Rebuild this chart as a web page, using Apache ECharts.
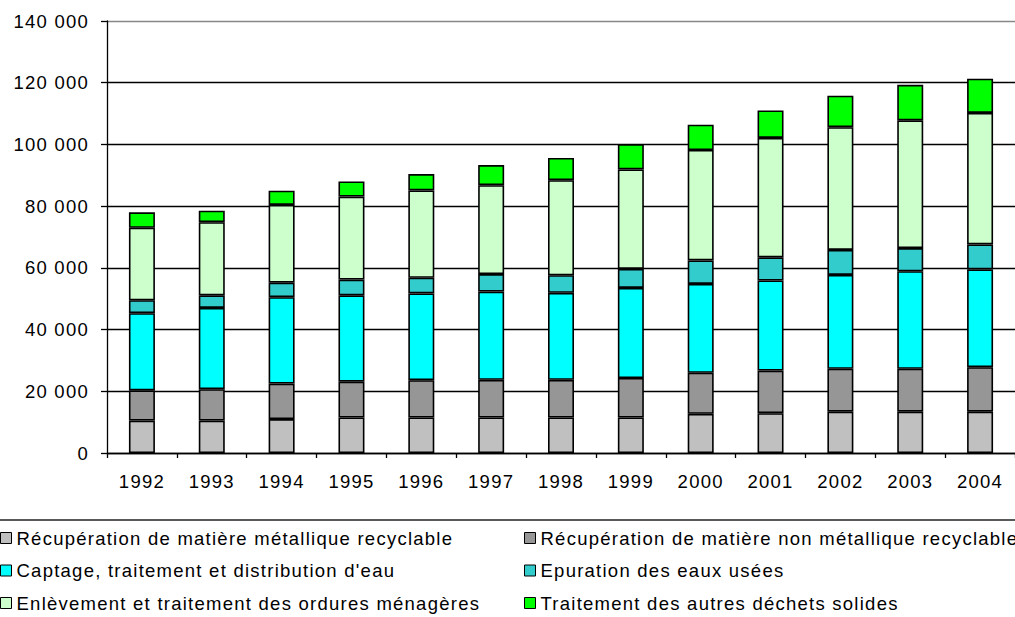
<!DOCTYPE html>
<html>
<head>
<meta charset="utf-8">
<script src="https://cdn.jsdelivr.net/npm/echarts@6/dist/echarts.min.js"></script>
<style>
  html, body { margin: 0; padding: 0; background: #fff; }
  #chart { width: 1015px; height: 617px; }
  /* slightly wider tracking for all chart text */
  #chart svg text { letter-spacing: 1.25px; }
</style>
</head>
<body>
<div id="chart"></div>
<script>
// Years on the category axis
const years = ['1992','1993','1994','1995','1996','1997','1998','1999','2000','2001','2002','2003','2004'];

// Y axis tick values
const yTicks = [0, 20000, 40000, 60000, 80000, 100000, 120000, 140000];

// Series names (legend order)
const names = [
  'Récupération de matière métallique recyclable',
  'Récupération de matière non métallique recyclable',
  "Captage, traitement et distribution d'eau",
  'Epuration des eaux usées',
  'Enlèvement et traitement des ordures ménagères',
  'Traitement des autres déchets solides'
];

// Values per year for each activity
const metallique    = [10500, 10500, 11000, 11500, 11500, 11500, 11500, 11500, 12700, 12900, 13400, 13400, 13400];
const nonMetallique = [ 9800, 10200, 11500, 11600, 12100, 12200, 12200, 12800, 13300, 13800, 13900, 13900, 14400];
const eau           = [25000, 26300, 28000, 28000, 28100, 28600, 28200, 29200, 28800, 29200, 30400, 31600, 31700];
const epuration     = [ 4200,  4100,  4700,  5100,  5100,  5700,  5700,  6200,  7600,  7500,  8100,  7500,  8100];
const ordures       = [23500, 23700, 25200, 26900, 28300, 28800, 30800, 32200, 35800, 38700, 39800, 41400, 42600];
const autres        = [ 5000,  3700,  4600,  4900,  5300,  6500,  7200,  8200,  8200,  8900, 10200, 11500, 11100];

const seriesValues = [metallique, nonMetallique, eau, epuration, ordures, autres];
const colors = ['#C0C0C0', '#969696', '#00FFFF', '#33CCCC', '#CCFFCC', '#00FF00'];

const FONT = "'Liberation Sans', Arial, sans-serif";
const fmt = v => String(v).replace(/\B(?=(\d{3})+(?!\d))/g, ' ');

const chart = echarts.init(document.getElementById('chart'), null, { renderer: 'svg' });

const legendText = { color: '#000', fontFamily: FONT, fontSize: 18.5, lineHeight: 20 };

chart.setOption({
  animation: false,
  backgroundColor: '#fff',
  textStyle: { fontFamily: FONT },
  grid: { left: 107, top: 21, right: -14, bottom: 164, containLabel: false },
  xAxis: {
    type: 'category',
    data: years,
    boundaryGap: true,
    axisLine: { show: true, lineStyle: { color: '#000', width: 1.3 } },
    axisTick: { show: true, inside: false, length: 5, alignWithLabel: false, lineStyle: { color: '#000', width: 1.3 } },
    axisLabel: { color: '#000', fontFamily: FONT, fontSize: 18.5, margin: 19, interval: 0 },
    splitLine: { show: false }
  },
  yAxis: {
    type: 'value',
    min: yTicks[0],
    max: yTicks[yTicks.length - 1],
    interval: yTicks[1] - yTicks[0],
    axisLine: { show: true, lineStyle: { color: '#000', width: 1.3 } },
    axisTick: { show: true, inside: false, length: 6, lineStyle: { color: '#000', width: 1.3 } },
    axisLabel: { color: '#000', fontFamily: FONT, fontSize: 18.5, margin: 18, formatter: fmt },
    splitLine: {
      show: true,
      lineStyle: { color: ['#000', '#000', '#000', '#000', '#000', '#000', '#000', '#888'], width: 1.3 }
    }
  },
  legend: [
    {
      orient: 'vertical', left: 0, top: 528, padding: 0, itemGap: 12.5,
      itemWidth: 11, itemHeight: 11, icon: 'rect',
      itemStyle: { borderColor: '#000', borderWidth: 1 },
      textStyle: legendText,
      data: [names[0], names[2], names[4]]
    },
    {
      orient: 'vertical', left: 524, top: 528, padding: 0, itemGap: 12.5,
      itemWidth: 11, itemHeight: 11, icon: 'rect',
      itemStyle: { borderColor: '#000', borderWidth: 1 },
      textStyle: legendText,
      data: [names[1], names[3], names[5]]
    }
  ],
  graphic: [
    {
      type: 'line',
      shape: { x1: 0, y1: 520, x2: 1015, y2: 520 },
      style: { stroke: '#222', lineWidth: 1.5 },
      silent: true
    }
  ],
  series: seriesValues.map((vals, i) => ({
    name: names[i],
    type: 'bar',
    stack: 'total',
    barWidth: 26,
    data: vals,
    itemStyle: { color: colors[i], borderColor: '#000', borderWidth: 1.6 },
    emphasis: { disabled: true }
  }))
});
</script>
</body>
</html>
